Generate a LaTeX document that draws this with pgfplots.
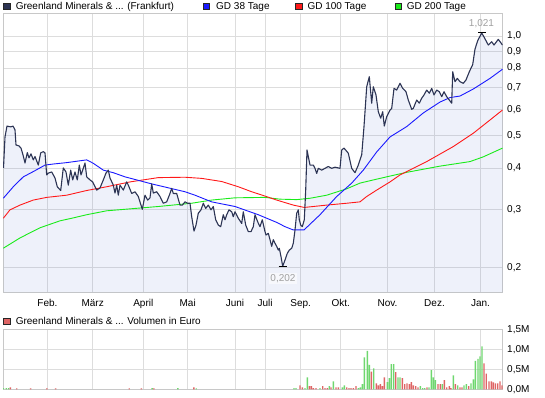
\documentclass[border=0pt]{standalone}
\usepackage{fontspec}
\setmainfont{Liberation Sans}
\usepackage{pgfplots}
\pgfplotsset{compat=1.18}
\usepackage{pgfplotstable}
\usepgfplotslibrary{fillbetween}

\definecolor{pricecol}{RGB}{44,52,84}
\definecolor{pricefillbase}{RGB}{85,115,205}
\definecolor{gdblue}{RGB}{25,25,255}
\definecolor{gdred}{RGB}{255,25,25}
\definecolor{gdgreen}{RGB}{25,235,25}
\definecolor{gridc}{RGB}{221,221,221}
\definecolor{borderc}{RGB}{200,200,200}
\definecolor{volg}{RGB}{110,215,110}
\definecolor{volr}{RGB}{222,100,100}
\definecolor{labgray}{RGB}{160,160,160}
\definecolor{labbox}{RGB}{247,248,252}

\pgfplotstableread{
x y
3.5 0.400
5 0.496
7 0.535
9 0.533
11 0.532
13 0.535
15 0.521
16 0.469
19 0.466
21 0.459
23 0.438
25 0.414
27.3 0.445
29 0.429
31 0.441
33.3 0.423
35 0.433
38.3 0.408
40.7 0.444
43.3 0.448
45 0.444
46.7 0.381
48.3 0.386
51.7 0.389
55 0.373
57.3 0.351
60.7 0.342
63.3 0.400
66 0.389
68.3 0.355
70.7 0.394
72.7 0.368
75 0.389
77.3 0.368
79.3 0.408
81 0.381
82.7 0.394
85 0.414
86.7 0.376
90 0.368
92.7 0.363
96.7 0.343
100 0.348
103.3 0.368
106 0.386
108.3 0.394
110 0.373
113.3 0.355
115 0.336
116.7 0.355
118.3 0.331
120 0.355
123.3 0.343
126.7 0.363
128.3 0.355
131.7 0.335
135 0.339
138.3 0.328
142.3 0.300
145 0.331
147.7 0.320
150 0.325
151.7 0.358
153.3 0.336
156.7 0.339
160 0.328
163.3 0.313
166.7 0.316
170 0.335
171.7 0.347
173.3 0.335
176.7 0.335
180 0.309
182.3 0.309
185 0.316
187.7 0.313
190 0.313
191.7 0.285
194 0.258
196 0.269
198.3 0.292
201 0.299
203.3 0.313
205.7 0.302
208.3 0.309
211 0.299
213.3 0.306
215.7 0.279
218.3 0.269
220.7 0.266
223.3 0.289
225 0.279
226.7 0.289
229 0.299
231.7 0.295
233.3 0.285
235 0.295
238.3 0.282
241.7 0.272
243.3 0.295
245.7 0.269
248.3 0.257
251 0.257
253.3 0.266
255 0.289
257.7 0.275
260 0.266
262.3 0.279
265 0.257
266 0.251
268.3 0.254
270 0.243
271.7 0.232
273.3 0.243
275 0.237
276.7 0.232
278.3 0.226
279.3 0.229
281 0.216
282.7 0.202
285 0.211
287.3 0.221
289.3 0.226
291.7 0.229
293.3 0.237
295 0.260
296.7 0.292
298.3 0.299
299.3 0.279
300.7 0.269
302.3 0.266
304.3 0.279
305.7 0.343
307 0.453
308.3 0.433
310 0.408
313.3 0.408
315 0.399
316.7 0.385
318.3 0.399
321.7 0.394
325 0.399
328.3 0.404
331.7 0.399
335 0.402
340 0.399
341.7 0.453
344 0.459
348.3 0.443
351.7 0.399
355 0.387
358.3 0.408
361.7 0.438
364 0.533
366.7 0.703
369.3 0.754
371.7 0.627
373.3 0.703
376 0.664
378.3 0.591
380.7 0.565
382.7 0.591
384.3 0.535
386.7 0.571
390 0.598
391.7 0.605
394 0.695
396.7 0.687
400 0.720
402.7 0.695
406 0.679
408.3 0.641
411.7 0.601
413.3 0.605
416.7 0.641
419.3 0.627
421.7 0.649
424 0.664
426.7 0.687
429.3 0.672
431.7 0.695
434 0.664
436.7 0.687
439.3 0.679
441.7 0.656
444 0.679
446.7 0.656
449.3 0.641
451.7 0.627
452.7 0.780
455 0.728
457.3 0.745
460 0.728
463.3 0.720
466 0.737
469.3 0.780
472.7 0.820
475 0.913
477.7 0.968
481.7 1.021
484 0.993
488.3 0.939
491.7 0.961
494 0.939
498.3 0.977
502.5 0.939
}\pricedata

\pgfplotstableread{
x y
3.3 0.324
13.3 0.351
23.3 0.376
33.3 0.390
45 0.408
53.3 0.411
66.7 0.415
86.7 0.423
93.3 0.413
103.3 0.394
113.3 0.387
125 0.376
151.7 0.358
185 0.339
195 0.331
211.7 0.316
235 0.306
258.3 0.289
276.7 0.274
285 0.266
293.3 0.260
304 0.260
320 0.289
336.7 0.328
351.7 0.360
363.3 0.394
376.7 0.447
390 0.496
406.7 0.533
423.3 0.586
440 0.632
450 0.652
460 0.659
473.3 0.692
490 0.745
502.5 0.794
}\gdA

\pgfplotstableread{
x y
3.3 0.282
10 0.299
20 0.309
33.3 0.320
46.7 0.326
66.7 0.331
86.7 0.342
106.7 0.351
130 0.363
158.3 0.374
185 0.375
201.7 0.372
221.7 0.364
238.3 0.351
251.7 0.339
265 0.329
276.7 0.320
293.3 0.309
304.3 0.304
326.7 0.309
346.7 0.313
360 0.316
366.7 0.328
376.7 0.343
390 0.363
400 0.381
426.7 0.418
453.3 0.464
473.3 0.509
490 0.558
502.5 0.598
}\gdB

\pgfplotstableread{
x y
3.3 0.229
20 0.246
40 0.264
60 0.277
71.7 0.282
86.7 0.289
106.7 0.297
130 0.301
158.3 0.306
191.7 0.313
211.7 0.320
235 0.325
265 0.326
280 0.322
296.7 0.321
310 0.324
326.7 0.331
346.7 0.346
360 0.360
376.7 0.370
390 0.378
406.7 0.388
440 0.405
470 0.418
483.3 0.432
502.5 0.459
}\gdC

\pgfplotstableread{
x v
3.5 0.03
6.3 0.03
8.7 0.03
152.1 0.03
177.8 0.03
196.2 0.02
294 0.03
296 0.03
305 0.03
307.3 0.30
320 0.03
329.3 0.08
333.3 0.20
342.3 0.05
344.3 0.10
358.3 0.03
360.3 0.05
362.3 0.13
364.3 0.80
367.3 0.96
369.3 0.61
373.7 0.52
387.3 0.18
389.3 0.28
391.3 0.63
393.7 0.63
398 0.30
400 0.30
420.3 0.08
422.7 0.03
424.7 0.03
429 0.05
431.3 0.48
433.3 0.30
435.3 0.23
442.3 0.13
453.3 0.35
457.7 0.10
464 0.10
466.3 0.13
471 0.15
473.3 0.25
475.3 0.71
478 0.76
480 0.82
482 1.07
}\volgreen

\pgfplotstableread{
x v
10.4 0.05
16.7 0.02
30.6 0.02
46.9 0.02
55.6 0.02
129.2 0.02
141.4 0.02
153.9 0.02
193.8 0.05
300 0.10
302.3 0.05
309.3 0.08
311.3 0.08
313.3 0.03
316 0.03
322.7 0.08
325 0.03
327.3 0.03
331 0.05
336 0.05
338.3 0.05
346.7 0.05
349 0.03
351 0.03
353.3 0.03
356 0.08
371.3 0.44
376.3 0.15
378.3 0.10
380.3 0.13
382.3 0.08
384.3 0.30
395.7 0.43
402.3 0.28
404.7 0.13
407 0.15
409.3 0.13
411.3 0.18
413.3 0.10
415.7 0.08
418 0.05
427 0.05
438 0.13
440.3 0.13
444.3 0.23
446.7 0.05
449.3 0.08
451 0.03
455.3 0.13
460 0.05
462 0.05
468.7 0.08
484 0.65
486.2 0.39
489 0.20
491.4 0.20
493.3 0.17
495.5 0.15
497.7 0.15
500 0.20
502 0.10
}\volred

\pgfplotsset{
  chartbase/.style={
    scale only axis,
    width=499.5bp,
    xmin=3, xmax=502.5,
    axis line style={draw=borderc, line width=0.8bp},
    grid=major,
    major grid style={draw=gridc, line width=0.8bp},
    major tick length=0pt, minor tick length=0pt,
    tick style={draw=none},
    xtick={47.5,92.7,143.3,187.7,235,265,300.7,340.7,387.5,434.5,480.5},
    yticklabel pos=right,
    ticklabel style={font=\fontsize{10bp}{12bp}\selectfont, text=black},
    yticklabel style={anchor=west, inner sep=0pt, xshift=4.5bp},
    /pgf/number format/assume math mode=true,
  }
}

\begin{document}
\begin{tikzpicture}

\begin{axis}[chartbase,
  at={(3bp,105.5bp)}, anchor=south west,
  height=279bp,
  ymode=log, ymin=0.1684, ymax=1.169,
  ytick={0.2,0.3,0.4,0.5,0.6,0.7,0.8,0.9,1.0},
  yticklabels={{0,2},{0,3},{0,4},{0,5},{0,6},{0,7},{0,8},{0,9},{1,0}},
  xticklabels={Feb.,März,April,Mai,Juni,Juli,Sep.,Okt.,Nov.,Dez.,Jan.},
  xticklabel style={anchor=north, yshift=-3.5bp},
]
\addplot[name path=price, draw=none, forget plot] table[x=x,y=y] {\pricedata};
\addplot[name path=base, draw=none, forget plot] coordinates {(3.5,0.1684) (502.5,0.1684)};
\addplot[fill=pricefillbase, fill opacity=0.1, draw=none] fill between[of=price and base];
\addplot[gdgreen, line width=0.9bp] table[x=x,y=y] {\gdC};
\addplot[gdred, line width=0.9bp] table[x=x,y=y] {\gdB};
\addplot[gdblue, line width=0.9bp] table[x=x,y=y] {\gdA};
\addplot[pricecol, line width=1.1bp, line join=round] table[x=x,y=y] {\pricedata};
\addplot[black, line width=1bp] coordinates {(278.5,0.202) (286.5,0.202)};
\addplot[black, line width=1bp] coordinates {(478,1.021) (486,1.021)};
\node[text=labgray, fill=labbox, inner sep=1.5bp, font=\fontsize{10bp}{12bp}\selectfont] at (axis cs:283,0.1856) {0,202};
\node[text=labgray, inner sep=0pt, font=\fontsize{10bp}{12bp}\selectfont] at (axis cs:481.5,1.087) {1,021};
\end{axis}

\begin{axis}[chartbase,
  at={(3bp,8.7bp)}, anchor=south west,
  height=60bp,
  ymin=0, ymax=1.5,
  ytick={0,0.5,1,1.5},
  yticklabels={{0,0M},{0,5M},{1,0M},{1,5M}},
  xticklabels={},
]
\addplot[ybar, bar width=1.4bp, bar shift=0pt, fill=volg, draw=none] table[x=x,y=v] {\volgreen};
\addplot[ybar, bar width=1.4bp, bar shift=0pt, fill=volr, draw=none] table[x=x,y=v] {\volred};
\end{axis}

\begin{scope}[font=\fontsize{10bp}{12bp}\selectfont]
\filldraw[fill=pricecol, draw=black!85, line width=0.6bp] (3.5bp,388.5bp) rectangle (9.9bp,394.9bp);
\node[anchor=base west, inner sep=0pt] at (15.6bp,388bp) {Greenland Minerals \& ... (Frankfurt)};
\filldraw[fill=gdblue, draw=black!85, line width=0.6bp] (203.3bp,388.5bp) rectangle (209.7bp,394.9bp);
\node[anchor=base west, inner sep=0pt] at (216bp,388bp) {GD 38 Tage};
\filldraw[fill=gdred, draw=black!85, line width=0.6bp] (295.7bp,388.5bp) rectangle (302.1bp,394.9bp);
\node[anchor=base west, inner sep=0pt] at (307.3bp,388bp) {GD 100 Tage};
\filldraw[fill=gdgreen, draw=black!85, line width=0.6bp] (395bp,388.5bp) rectangle (401.4bp,394.9bp);
\node[anchor=base west, inner sep=0pt] at (406.7bp,388bp) {GD 200 Tage};
\filldraw[fill=volr, draw=black!85, line width=0.6bp] (3.5bp,73.3bp) rectangle (9.9bp,79.7bp);
\node[anchor=base west, inner sep=0pt] at (15.6bp,73bp) {Greenland Minerals \& ... Volumen in Euro};
\end{scope}
\path[use as bounding box] (0bp,0bp) rectangle (545bp,398bp);
\end{tikzpicture}
\end{document}
